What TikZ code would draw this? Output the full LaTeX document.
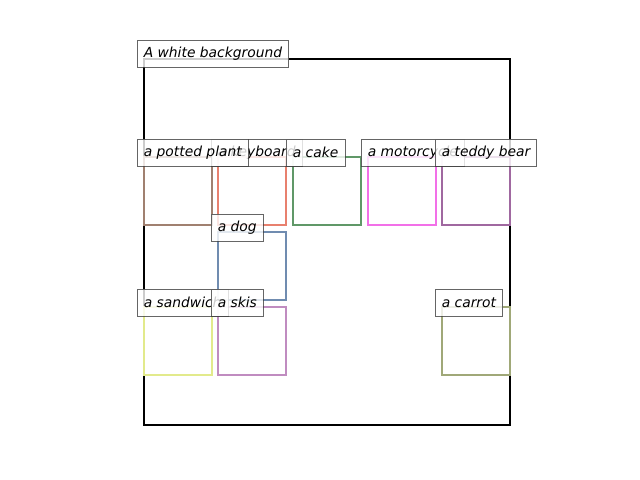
\documentclass[tikz,border=0pt]{standalone}
\usepackage{fontspec}
\setmainfont{DejaVu Sans}
\definecolor{plantcol}{RGB}{160,128,112}
\definecolor{keycol}{RGB}{232,128,110}
\definecolor{cakecol}{RGB}{96,152,104}
\definecolor{dogcol}{RGB}{112,140,176}
\definecolor{motocol}{RGB}{242,112,232}
\definecolor{teddycol}{RGB}{160,104,160}
\definecolor{sandcol}{RGB}{226,234,140}
\definecolor{skiscol}{RGB}{192,140,192}
\definecolor{carrotcol}{RGB}{160,168,120}
\tikzset{
  lbl/.style={draw=black!75, fill=white, fill opacity=0.8, draw opacity=0.8,
    text opacity=1, font=\itshape, anchor=west, minimum height=0.27in,
    inner xsep=0.065in, inner ysep=0pt},
  objbox/.style={line width=1.5pt}
}
\begin{document}
\begin{tikzpicture}[x=0.01in,y=-0.01in]
        \useasboundingbox (0,0) rectangle (640,480);
        \draw[line width=1.5pt] (144,59) rectangle (510,425);
        % object boxes
        \draw[objbox,plantcol] (144,157) rectangle (212,225);
        \draw[objbox,keycol] (218,157) rectangle (286,225);
        \draw[objbox,cakecol] (293,157) rectangle (361,225);
        \draw[objbox,motocol] (368,157) rectangle (436,225);
        \draw[objbox,teddycol] (442,157) rectangle (510,225);
        \draw[objbox,dogcol] (218,232) rectangle (286,300);
        \draw[objbox,sandcol] (144,307) rectangle (212,375);
        \draw[objbox,skiscol] (218,307) rectangle (286,375);
        \draw[objbox,carrotcol] (442,307) rectangle (510,375);
        % labels
        \node[lbl] (bg) at (137,53.5) {A white background};
        \node[lbl] (keyboard) at (211,152.5) {a keyboard};
        \node[lbl] (plant) at (137,152.5) {a potted plant};
        \node[lbl] (cake) at (286,152.5) {a cake};
        \node[lbl] (moto) at (361,152.5) {a motorcycle};
        \node[lbl] (teddy) at (435,152.5) {a teddy bear};
        \node[lbl] (dog) at (211,227.5) {a dog};
        \node[lbl] (sandwich) at (137,302.5) {a sandwich};
        \node[lbl] (skis) at (211,302.5) {a skis};
        \node[lbl] (carrot) at (435,302.5) {a carrot};
    \end{tikzpicture}
\end{document}
